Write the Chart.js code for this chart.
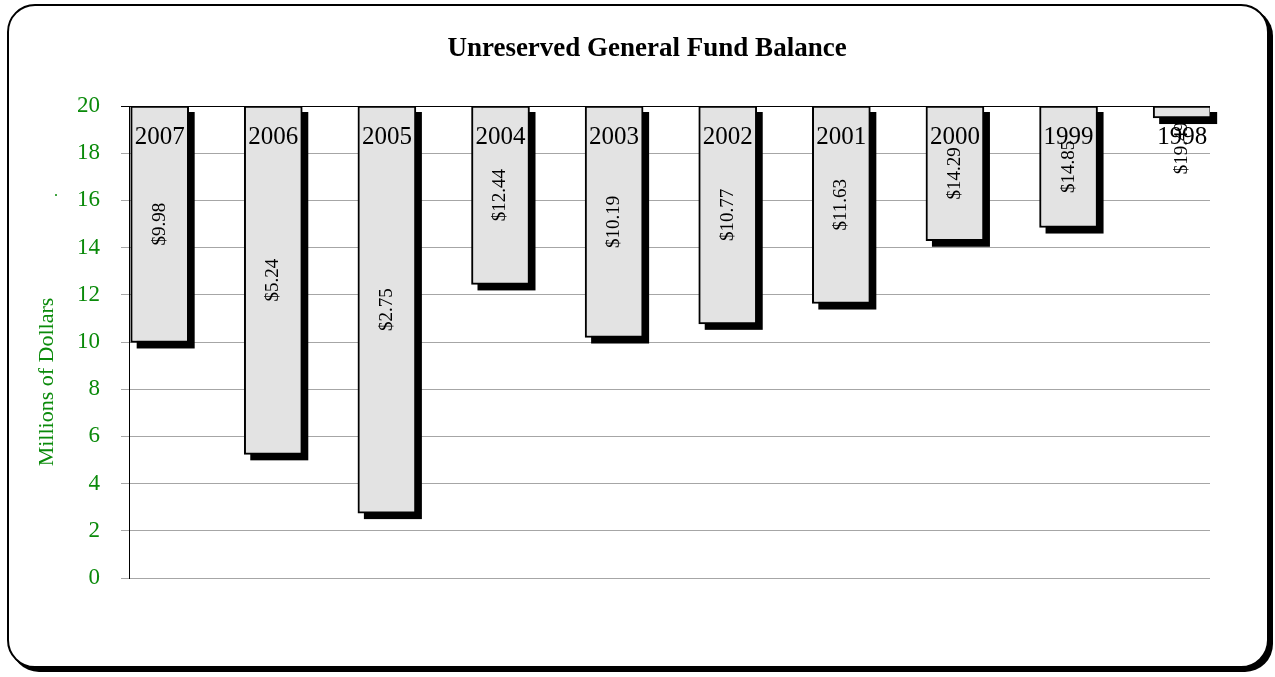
<!DOCTYPE html>
<html>
<head>
<meta charset="utf-8">
<script src="https://cdn.jsdelivr.net/npm/chart.js@4/dist/chart.umd.min.js"></script>
<style>
  body { margin: 0; background: #fff; }
  #frame {
    position: absolute; left: 7px; top: 4px; width: 1258px; height: 660px;
    border: 2px solid #000; border-radius: 28px;
    box-shadow: 4px 4px 0 #000; background: #fff; overflow: hidden;
  }
  canvas { display: block; }
</style>
</head>
<body>
<div id="frame"><canvas id="fund" width="1258" height="660"></canvas></div>
<script>
const years = ['2007', '2006', '2005', '2004', '2003', '2002', '2001', '2000', '1999', '1998'];
const balances = [9.98, 5.24, 2.75, 12.44, 10.19, 10.77, 11.63, 14.29, 14.85, 19.49];
const yTicks = [0, 2, 4, 6, 8, 10, 12, 14, 16, 18, 20];
const axisTop = 20;

const green = '#0a8a0a';
const serif = "'Liberation Serif', 'Times New Roman', serif";

// bars hang from the top of the axis down to the balance
const points = balances.map((v, i) => ({ x: i, y: [v, axisTop] }));

// solid drop shadow behind each bar
const barShadow = {
  id: 'barShadow',
  beforeDatasetsDraw(chart) {
    const ctx = chart.ctx;
    ctx.save();
    ctx.fillStyle = '#000';
    chart.getDatasetMeta(0).data.forEach(bar => {
      const top = Math.min(bar.y, bar.base);
      const h = Math.abs(bar.base - bar.y);
      ctx.fillRect(bar.x - bar.width / 2 + 6, top + 6, bar.width, h);
    });
    ctx.restore();
  }
};

const barText = {
  id: 'barText',
  afterDatasetsDraw(chart) {
    const ctx = chart.ctx;
    const meta = chart.getDatasetMeta(0);
    ctx.save();
    ctx.fillStyle = '#000';
    ctx.textAlign = 'center';
    ctx.textBaseline = 'middle';
    meta.data.forEach((bar, i) => {
      const top = Math.min(bar.y, bar.base);
      const bottom = Math.max(bar.y, bar.base);
      ctx.font = '25px ' + serif;
      ctx.fillText(years[i], bar.x, top + 31);

      const cy = Math.max((top + bottom) / 2, top + 42);
      ctx.save();
      ctx.translate(bar.x, cy);
      ctx.rotate(-Math.PI / 2);
      ctx.font = '19px ' + serif;
      ctx.fillText('$' + balances[i].toFixed(2), 0, 0);
      ctx.restore();
    });

    // axis title
    ctx.save();
    ctx.translate(38, 376);
    ctx.rotate(-Math.PI / 2);
    ctx.fillStyle = green;
    ctx.font = '22px ' + serif;
    ctx.fillText('Millions of Dollars', 0, 0);
    ctx.restore();
    ctx.fillStyle = green;
    ctx.font = '16px ' + serif;
    ctx.fillText('.', 47, 186);

    ctx.fillStyle = '#000';
    ctx.font = 'bold 27px ' + serif;
    ctx.fillText('Unreserved General Fund Balance', 638, 43);
    ctx.restore();
  }
};

new Chart(document.getElementById('fund'), {
  type: 'bar',
  data: {
    datasets: [{
      data: points,
      backgroundColor: '#e3e3e3',
      borderColor: '#000',
      borderWidth: 2,
      borderSkipped: false,
      barThickness: 58
    }]
  },
  options: {
    responsive: false,
    animation: false,
    layout: { padding: { left: 0, top: 100, right: 57, bottom: 88 } },
    plugins: { legend: { display: false }, tooltip: { enabled: false } },
    scales: {
      x: { type: 'linear', display: false, offset: false, min: -0.27, max: 9.245 },
      y: {
        min: 0,
        max: 20,
        afterFit(scale) { scale.width = 120; },
        afterBuildTicks(scale) { scale.ticks = yTicks.map(v => ({ value: v })); },
        border: { display: true, color: '#000', width: 1 },
        grid: {
          color: c => c.tick && c.tick.value === axisTop ? '#000' : '#a6a6a6',
          lineWidth: 1,
          tickLength: 8
        },
        ticks: {
          color: green,
          padding: 21,
          font: { family: serif, size: 23 }
        }
      }
    }
  },
  plugins: [barShadow, barText]
});
</script>
</body>
</html>
